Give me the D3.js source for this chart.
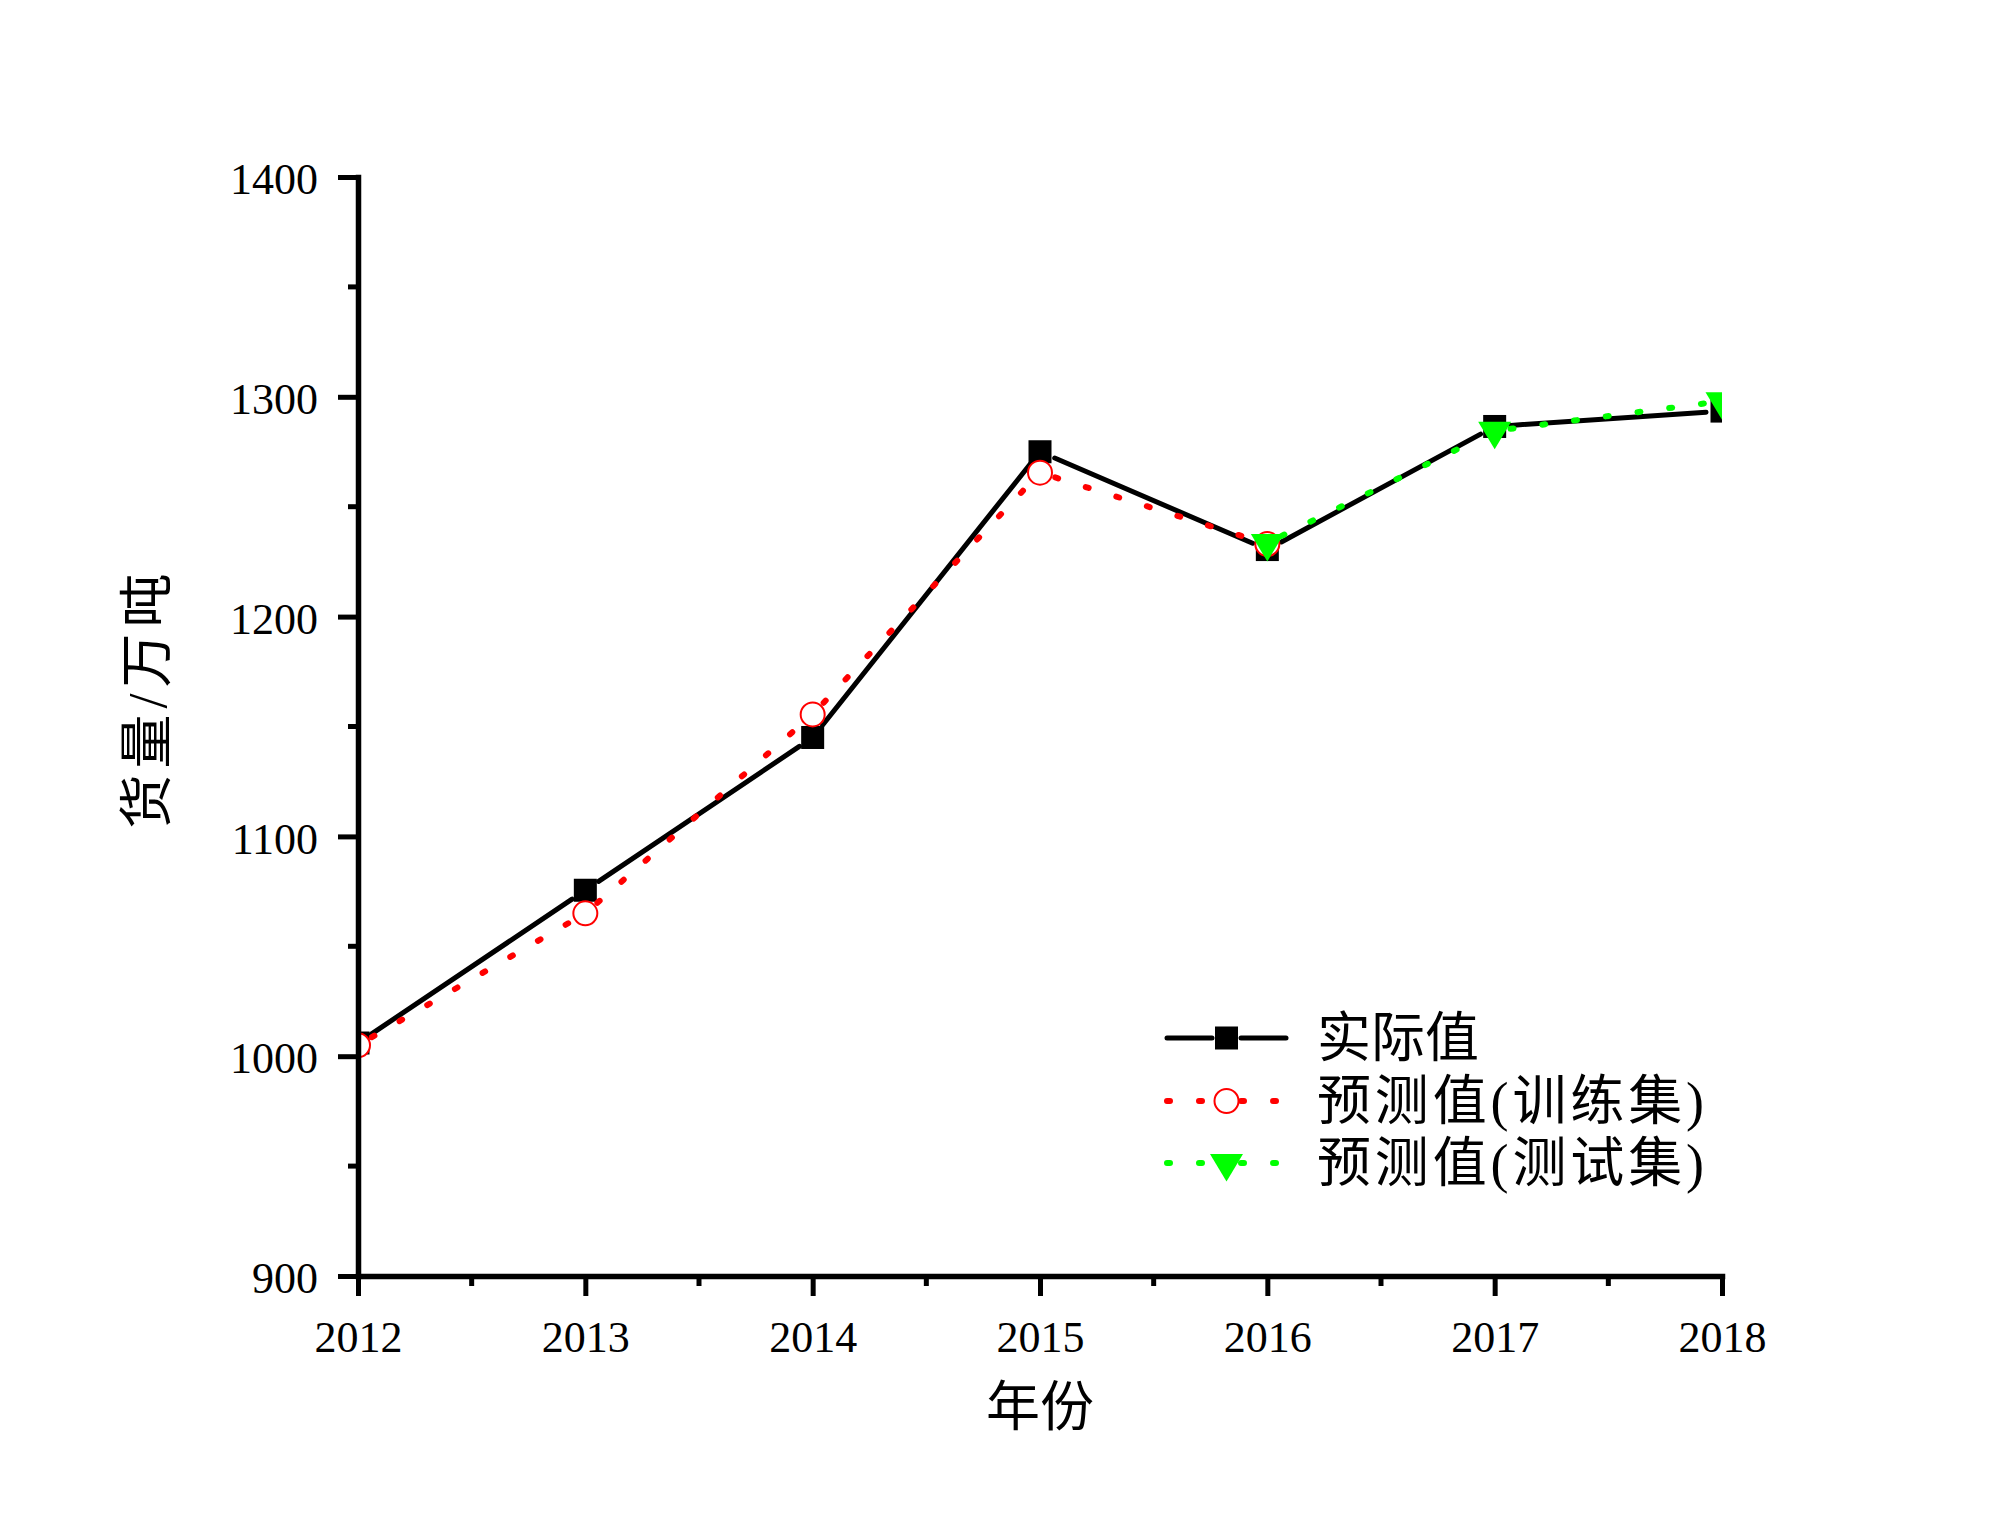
<!DOCTYPE html>
<html>
<head>
<meta charset="utf-8">
<script src="https://cdn.jsdelivr.net/npm/d3@7"></script>
<style>
  body { margin: 0; background: #fff; }
  svg { display: block; }
  .tick text { font-family: "Liberation Serif", "Times New Roman", serif; }
</style>
</head>
<body>
<div id="chart"></div>
<script>
// data
var years = [2012, 2013, 2014, 2015, 2016, 2017, 2018]
var actualValues = [1006, 1075.5, 1145, 1275, 1230.5, 1286.5, 1293.5]
var trainYears = [2012, 2013, 2014, 2015, 2016]
var trainValues = [1005, 1065, 1155.5, 1265.5, 1233]
var testYears = [2016, 2017, 2018]
var testValues = [1233.5, 1284.5, 1298]
var yTicks = [900, 1000, 1100, 1200, 1300, 1400]
var legendLabels = ["实际值", "预测值(训练集)", "预测值(测试集)"]

var W = 2000, H = 1530
var margin = { left: 358, top: 177, right: 278, bottom: 254 }
var innerW = W - margin.left - margin.right
var innerH = H - margin.top - margin.bottom

var svg = d3.select("#chart").append("svg").attr("width", W).attr("height", H)

var x = d3.scaleLinear().domain([2012, 2018]).range([0, innerW])
var y = d3.scaleLinear().domain([900, 1400]).range([innerH, 0])

var g = svg.append("g").attr("transform", "translate(" + margin.left + "," + margin.top + ")")

// clip so the end markers get cut at the axes like the original
svg.append("defs").append("clipPath").attr("id", "plotClip")
  .append("rect").attr("x", 0).attr("y", 0).attr("width", innerW).attr("height", innerH)

var plot = g.append("g").attr("clip-path", "url(#plotClip)")

// line is trimmed near every marker (gap around symbols)
function trimmedSegments(xs, vs, gap) {
  var segs = []
  for (var i = 0; i < xs.length - 1; i++) {
    var x1 = x(xs[i]), y1 = y(vs[i]), x2 = x(xs[i + 1]), y2 = y(vs[i + 1])
    var dx = x2 - x1, dy = y2 - y1
    var len = Math.sqrt(dx * dx + dy * dy)
    var ux = dx / len, uy = dy / len
    segs.push([[x1 + ux * gap, y1 + uy * gap], [x2 - ux * gap, y2 - uy * gap]])
  }
  return segs
}

var line = d3.line()

function drawSeries(xs, vs, color, dotted) {
  var segs = trimmedSegments(xs, vs, 16)
  var p = plot.append("g").selectAll("path").data(segs).enter().append("path")
    .attr("d", function (d) { return line(d) })
    .attr("fill", "none")
    .attr("stroke", color)
    .attr("stroke-linecap", "round")
  if (dotted) {
    p.attr("stroke-width", 6).attr("stroke-dasharray", "3 29")
  } else {
    p.attr("stroke-width", 5)
  }
}

var triPath = "M-16.5,-9L16.5,-9L0,18.5Z"

// actual
drawSeries(years, actualValues, "#000", false)
plot.append("g").selectAll("rect").data(years).enter().append("rect")
  .attr("x", function (d) { return x(d) - 11.5 })
  .attr("y", function (d, i) { return y(actualValues[i]) - 11.5 })
  .attr("width", 23).attr("height", 23)
  .attr("fill", "#000")

// training prediction
drawSeries(trainYears, trainValues, "#ff0000", true)
plot.append("g").selectAll("circle").data(trainYears).enter().append("circle")
  .attr("cx", function (d) { return x(d) })
  .attr("cy", function (d, i) { return y(trainValues[i]) })
  .attr("r", 12)
  .attr("fill", "#fff")
  .attr("stroke", "#ff0000")
  .attr("stroke-width", 2)

// test prediction
drawSeries(testYears, testValues, "#00ff00", true)
plot.append("g").selectAll("path.tri").data(testYears).enter().append("path")
  .attr("class", "tri")
  .attr("d", triPath)
  .attr("transform", function (d, i) { return "translate(" + x(d) + "," + y(testValues[i]) + ")" })
  .attr("fill", "#00ff00")

// axes
var yAxis = d3.axisLeft(y).tickValues(yTicks).tickSize(20).tickSizeOuter(0).tickPadding(20)
  .tickFormat(d3.format("d"))
var xAxis = d3.axisBottom(x).tickValues(years).tickSize(20).tickSizeOuter(0).tickPadding(25)
  .tickFormat(d3.format("d"))

var gy = g.append("g").call(yAxis)
var gx = g.append("g").attr("transform", "translate(0," + innerH + ")").call(xAxis)

// minor ticks
g.append("g").selectAll("line").data(d3.range(950, 1400, 100)).enter().append("line")
  .attr("x1", -10).attr("x2", 0)
  .attr("y1", function (d) { return y(d) }).attr("y2", function (d) { return y(d) })
  .attr("stroke", "#000").attr("stroke-width", 5)
g.append("g").selectAll("line").data(d3.range(2012.5, 2018, 1)).enter().append("line")
  .attr("y1", innerH).attr("y2", innerH + 10)
  .attr("x1", function (d) { return x(d) }).attr("x2", function (d) { return x(d) })
  .attr("stroke", "#000").attr("stroke-width", 5)

;[gx, gy].forEach(function (ax) {
  ax.select(".domain").attr("stroke-width", 5.5).attr("stroke-linecap", "square")
  ax.selectAll(".tick line").attr("stroke-width", 5)
  ax.selectAll(".tick text").attr("font-size", 44).attr("fill", "#000")
})
gy.selectAll(".tick text").attr("dy", "0.38em")

// axis titles
svg.append("text")
  .attr("x", margin.left + innerW / 2 + 0).attr("y", 1426)
  .attr("text-anchor", "middle")
  .attr("font-family", "'Liberation Serif', 'Noto Sans CJK SC', serif")
  .attr("font-size", 54)
  .text("年份")

svg.append("text")
  .attr("transform", "translate(166,701) rotate(-90)")
  .attr("text-anchor", "middle")
  .attr("font-family", "'Liberation Serif', 'Noto Sans CJK SC', serif")
  .attr("font-size", 54)
  .attr("textLength", 255)
  .attr("lengthAdjust", "spacing")
  .text("货量/万吨")

// legend
var legendRows = [1038, 1101, 1163]
var leg = svg.append("g")

function legendLine(yy, color, dotted) {
  [[1167, 1212], [1241, 1286]].forEach(function (s) {
    var l = leg.append("line").attr("x1", s[0]).attr("x2", s[1]).attr("y1", yy).attr("y2", yy)
      .attr("stroke", color).attr("stroke-linecap", "round")
    if (dotted) l.attr("stroke-width", 6).attr("stroke-dasharray", "3 29")
    else l.attr("stroke-width", 5)
  })
}

legendLine(legendRows[0], "#000", false)
leg.append("rect").attr("x", 1226.5 - 11.5).attr("y", legendRows[0] - 11.5).attr("width", 23).attr("height", 23).attr("fill", "#000")

legendLine(legendRows[1], "#ff0000", true)
leg.append("circle").attr("cx", 1226.5).attr("cy", legendRows[1]).attr("r", 12)
  .attr("fill", "#fff").attr("stroke", "#ff0000").attr("stroke-width", 2)

legendLine(legendRows[2], "#00ff00", true)
leg.append("path").attr("d", triPath).attr("transform", "translate(1226.5," + legendRows[2] + ")").attr("fill", "#00ff00")

leg.selectAll("text.lab").data(legendLabels).enter().append("text")
  .attr("class", "lab")
  .attr("x", 1317)
  .attr("y", function (d, i) { return legendRows[i] + 19 })
  .attr("font-family", "'Liberation Serif', 'Noto Sans CJK SC', serif")
  .attr("font-size", 54)
  .attr("textLength", function (d, i) { return i == 0 ? null : 387 })
  .attr("lengthAdjust", "spacing")
  .text(function (d) { return d })
</script>
</body>
</html>
